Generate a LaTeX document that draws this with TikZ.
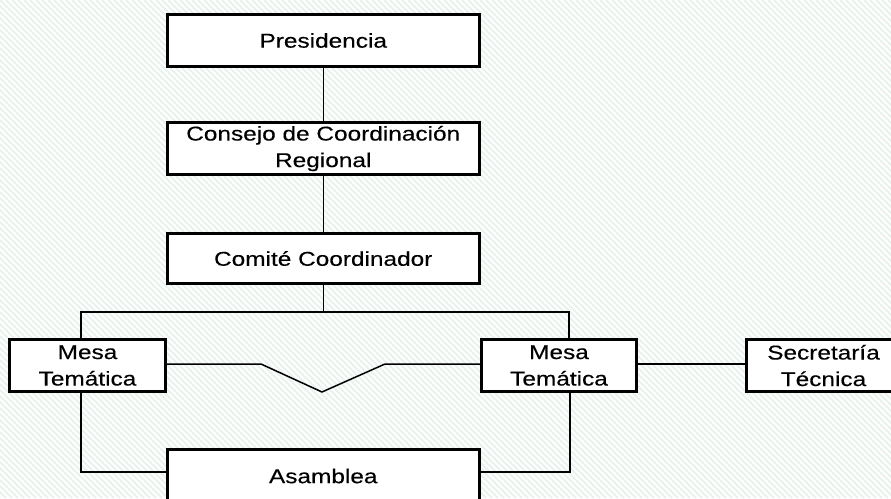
\documentclass[tikz,border=0pt]{standalone}
\usepackage{fontspec}
\setmainfont{Liberation Sans}[FakeStretch=1.22,FakeBold=0.25]
\usetikzlibrary{calc}
\definecolor{stripe}{RGB}{234,242,237}
\begin{document}
\begin{tikzpicture}[x=1pt,y=-1pt,
  box/.style={draw=black,line width=3pt,fill=white,inner sep=0pt,align=center,
    font=\fontsize{20}{26.5}\selectfont},
  conn/.style={draw=black,line width=1.5pt}]
\useasboundingbox (0,0) rectangle (891,498);
\begin{scope}
\clip (0,0) rectangle (891,498);
\fill[white] (0,0) rectangle (891,498);
\foreach \i in {-498,-492,...,891} \draw[stripe,line width=2pt] (\i,0) -- ++(498,498);
% nodes
\node[box,minimum width=312.5pt,minimum height=52pt] (pres) at (323.25,40.5) {Presidencia};
\node[box,minimum width=312.5pt,minimum height=52pt] (cons) at (323.25,148.5) {Consejo de Coordinación\\Regional};
\node[box,minimum width=312.5pt,minimum height=50pt] (com) at (323.25,258.5) {Comité Coordinador};
\node[box,minimum width=156pt,minimum height=52pt] (mesa1) at (87.5,365.5) {Mesa\\Temática};
\node[box,minimum width=155pt,minimum height=52pt] (mesa2) at (559,365.5) {Mesa\\Temática};
\node[box,minimum width=154pt,minimum height=52pt] (sec) at (823.5,365.5) {Secretaría\\Técnica};
\node[box,minimum width=312.5pt,minimum height=53pt] (asam) at (323.25,476) {Asamblea};
% connectors
\coordinate (bus) at (323.25,312);
\coordinate (z1) at (261,364);
\coordinate (z2) at (322,392);
\coordinate (z3) at (385,364);
\draw[conn] (pres) -- (cons);
\draw[conn] (cons) -- (com);
\draw[conn] (com) -- (bus);
\draw[conn] ($(mesa1.north)+(-6.5,0)$) |- (bus) -| ($(mesa2.north)+(10,0)$);
\draw[conn] ($(mesa1.east)+(0,-1.5)$) -- (z1) -- (z2) -- (z3) -- ($(mesa2.west)+(0,-1.5)$);
\draw[conn] ($(mesa2.east)+(0,-1.5)$) -- ($(sec.west)+(0,-1.5)$);
\draw[conn] ($(mesa1.south)+(-6.5,0)$) |- ($(asam.west)+(0,-4)$);
\draw[conn] ($(mesa2.south)+(11,0)$) |- ($(asam.east)+(0,-4)$);
\end{scope}
\end{tikzpicture}
\end{document}
